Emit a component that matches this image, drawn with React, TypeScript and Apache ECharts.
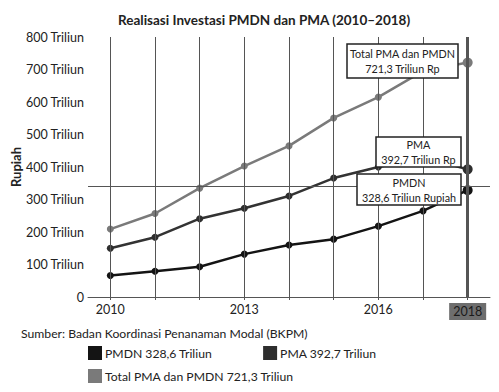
import React, { useEffect, useRef } from "react";
import * as echarts from "echarts";

const years = ["2010", "2011", "2012", "2013", "2014", "2015", "2016", "2017", "2018"];
const shownYearLabels = ["2010", "2013", "2016", "2018"];
const pmdn = [66, 79, 93, 132, 160, 178, 218, 265, 328.6];
const pma = [150, 184, 241, 273, 311, 366, 400, 430, 392.7];
const total = [209, 257, 335, 403, 465, 551, 615, 695, 721.3];
const yTicks = [0, 100, 200, 300, 400, 500, 600, 700, 800];
const referenceLineValue = 342;
const legendLabels: Record<string, string> = {
  PMDN: "PMDN 328,6 Triliun",
  PMA: "PMA 392,7 Triliun",
  Total: "Total PMA dan PMDN 721,3 Triliun",
};
const boxTotal = ["Total PMA dan PMDN", "721,3 Triliun Rp"];
const boxPma = ["PMA", "392,7 Triliun Rp"];
const boxPmdn = ["PMDN", "328,6 Triliun Rupiah"];

const FONT = "Lato";

function box(x: number, y: number, w: number, h: number, lines: string[]) {
  return [
    {
      type: "rect",
      z: 100,
      zlevel: 1,
      shape: { x, y, width: w, height: h },
      style: { fill: "#ffffff", stroke: "#222", lineWidth: 1.5 },
    },
    {
      type: "text",
      z: 101,
      zlevel: 1,
      x: x + w / 2,
      y: y + h / 2,
      style: {
        text: lines.join("\n"),
        align: "center",
        verticalAlign: "middle",
        fontFamily: FONT,
        fontSize: 10.8,
        lineHeight: 15,
        fill: "#222",
      },
    },
  ];
}

export default function App() {
  const ref = useRef<HTMLDivElement>(null);
  useEffect(() => {
    if (!ref.current) return;
    const chart = echarts.init(ref.current, null, { renderer: "svg" });
    const vertLines = years.map((y, i) => ({
      xAxis: y,
      lineStyle: {
        color: "#555",
        width: i === years.length - 1 ? 3 : 1,
        type: "solid",
      },
    }));
    const symSize = (_v: any, p: any) => (p.dataIndex === years.length - 1 ? 10 : 7);
    chart.setOption({
      animation: false,
      textStyle: { fontFamily: FONT },
      title: [
        {
          text: "Realisasi Investasi PMDN dan PMA (2010–2018)",
          left: 113,
          top: 8,
          textStyle: { fontFamily: FONT, fontSize: 13.5, fontWeight: "bold", color: "#222" },
        },
        {
          text: "Sumber: Badan Koordinasi Penanaman Modal (BKPM)",
          left: 16,
          top: 322,
          textStyle: { fontFamily: FONT, fontSize: 12.2, fontWeight: "normal", color: "#222" },
        },
      ],
      grid: { left: 88, right: 9, top: 37, bottom: 95, containLabel: false, outerBoundsMode: "none" },
      xAxis: {
        type: "category",
        data: years,
        boundaryGap: true,
        axisLine: { show: true, lineStyle: { color: "#555", width: 1 } },
        axisTick: { show: true, alignWithLabel: true, interval: 0, length: 3, lineStyle: { color: "#555" } },
        splitLine: { show: false },
        axisLabel: {
          interval: (_i: number, v: string) => shownYearLabels.includes(v),
          margin: 6,
          fontFamily: FONT,
          fontSize: 12.5,
          color: "#222",
          formatter: (v: string) => (v === years[years.length - 1] ? `{hl|${v}}` : v),
          rich: {
            hl: {
              backgroundColor: "#6e6e6e",
              color: "#1a1a1a",
              padding: [2, 4, 2, 4],
              fontFamily: FONT,
              fontSize: 12.5,
            },
          },
        },
      },
      yAxis: {
        type: "value",
        min: yTicks[0],
        max: yTicks[yTicks.length - 1],
        interval: 100,
        name: "Rupiah",
        nameLocation: "middle",
        nameRotate: 90,
        nameGap: 66,
        nameMoveOverlap: false,
        nameTextStyle: { fontFamily: FONT, fontSize: 13, fontWeight: "bold", color: "#222" },
        axisLine: { show: false },
        axisTick: { show: false },
        splitLine: { show: false },
        axisLabel: {
          margin: 4,
          fontFamily: FONT,
          fontSize: 12.5,
          color: "#222",
          formatter: (v: number) => (v === 0 ? "0" : `${v} Triliun`),
        },
      },
      legend: [
        {
          data: ["PMDN", "PMA"],
          left: 88,
          top: 346,
          padding: 0,
          icon: "rect",
          itemWidth: 14,
          itemHeight: 14,
          itemGap: 51,
          selectedMode: false,
          formatter: (n: string) => legendLabels[n],
          textStyle: { fontFamily: FONT, fontSize: 12.2, color: "#222", padding: [0, 0, 0, -2] },
        },
        {
          data: ["Total"],
          left: 88,
          top: 369,
          padding: 0,
          icon: "rect",
          itemWidth: 14,
          itemHeight: 14,
          selectedMode: false,
          formatter: (n: string) => legendLabels[n],
          textStyle: { fontFamily: FONT, fontSize: 12.2, color: "#222", padding: [0, 0, 0, -2] },
        },
      ],
      series: [
        {
          name: "grid",
          type: "line",
          data: [],
          z: 1,
          silent: true,
          markLine: {
            silent: true,
            symbol: "none",
            label: { show: false },
            data: [
              ...vertLines,
              { yAxis: referenceLineValue, lineStyle: { color: "#555", width: 1, type: "solid" } },
            ],
          },
        },
        {
          name: "Total",
          type: "line",
          data: total,
          z: 3,
          symbol: "circle",
          symbolSize: symSize,
          color: "#7a7a7a",
          lineStyle: { color: "#7a7a7a", width: 2.5 },
          itemStyle: { color: "#7a7a7a" },
        },
        {
          name: "PMA",
          type: "line",
          data: pma,
          z: 3,
          symbol: "circle",
          symbolSize: symSize,
          color: "#2e2e2e",
          lineStyle: { color: "#333", width: 2.5 },
          itemStyle: { color: "#2e2e2e" },
        },
        {
          name: "PMDN",
          type: "line",
          data: pmdn,
          z: 3,
          symbol: "circle",
          symbolSize: symSize,
          color: "#141414",
          lineStyle: { color: "#141414", width: 2.5 },
          itemStyle: { color: "#141414" },
        },
      ],
      graphic: {
        z: 100,
        zlevel: 1,
        elements: [
          ...box(347, 44, 111, 34, boxTotal),
          ...box(376, 137, 85, 30, boxPma),
          ...box(357, 174, 104, 31, boxPmdn),
        ],
      },
    });
    return () => chart.dispose();
  }, []);
  return <div ref={ref} style={{ width: 499, height: 392, marginLeft: -8, marginTop: -8 }} />;
}
